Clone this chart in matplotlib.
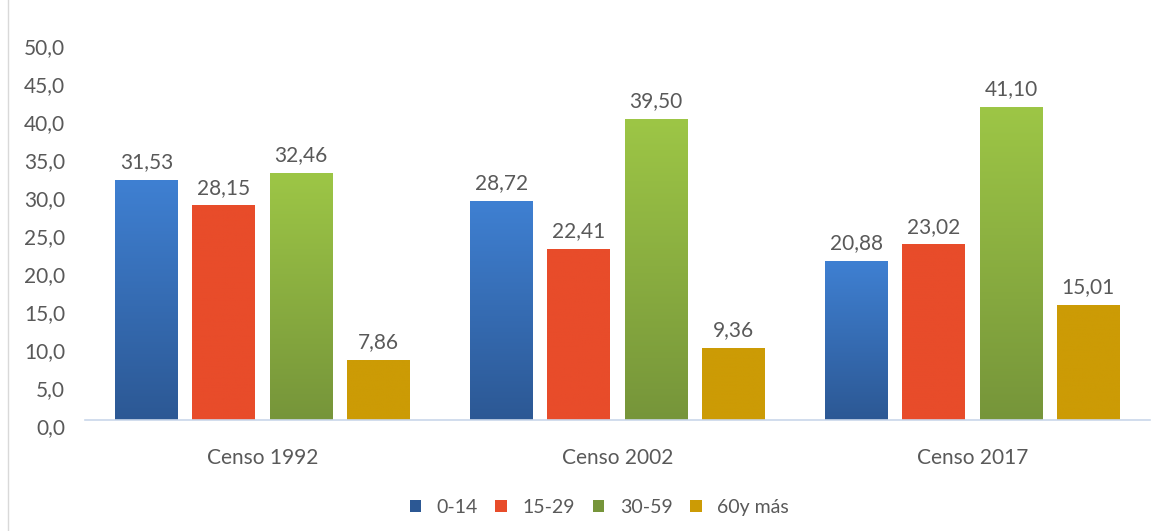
import numpy as np
import matplotlib.pyplot as plt
from matplotlib.colors import LinearSegmentedColormap
from matplotlib.patches import Patch
from matplotlib.lines import Line2D
import matplotlib.transforms as mtransforms

plt.rcParams['font.family'] = ['Lato', 'DejaVu Sans']

censos = ['Censo 1992', 'Censo 2002', 'Censo 2017']
grupos = ['0-14', '15-29', '30-59', '60y más']
valores = {
    '0-14': [31.53, 28.72, 20.88],
    '15-29': [28.15, 22.41, 23.02],
    '30-59': [32.46, 39.50, 41.10],
    '60y más': [7.86, 9.36, 15.01],
}
yticks = [0, 5, 10, 15, 20, 25, 30, 35, 40, 45, 50]

# colores (arriba, abajo) -> degradado tipo Excel
colores = {
    '0-14': ('#3F80D2', '#2C5894'),
    '15-29': ('#E84C2A', '#E84C2A'),
    '30-59': ('#9DC646', '#76953A'),
    '60y más': ('#CC9B05', '#CC9B05'),
}
txt = '#595959'
fs = 15

fig = plt.figure(figsize=(11.66, 5.31), dpi=100)
ax = fig.add_axes([0.073, 0.209, 0.913, 0.716])

x = np.arange(len(censos))
ancho = 0.177
paso = 0.218

for i, g in enumerate(grupos):
    off = (i - 1.5) * paso
    top, bot = colores[g]
    cmap = LinearSegmentedColormap.from_list(g, [bot, top])
    grad = np.linspace(1, 0, 256).reshape(-1, 1)
    for j, v in enumerate(valores[g]):
        x0 = x[j] + off - ancho / 2
        ax.imshow(grad, extent=[x0, x0 + ancho, 0, v], aspect='auto',
                  cmap=cmap, vmin=0, vmax=1, zorder=2)
        ax.annotate(f'{v:.2f}'.replace('.', ','), (x[j] + off, v),
                    xytext=(0, 6), textcoords='offset points',
                    ha='center', va='bottom', fontsize=fs, color=txt)

ax.set_xlim(-0.5, 2.5)
ax.set_ylim(0, 50)
ax.set_xticks(x)
ax.set_xticklabels(censos, fontsize=fs, color=txt)
ax.set_yticks(yticks)
ax.set_yticklabels([])
# etiquetas del eje y a mano, un poco mas abajo que la marca
shift = mtransforms.ScaledTranslation(-20 / 100, -8 / 100, fig.dpi_scale_trans)
for t in yticks:
    ax.text(0, t, f'{t:.1f}'.replace('.', ','), transform=ax.get_yaxis_transform() + shift,
            ha='right', va='center', fontsize=fs, color=txt)
ax.tick_params(axis='both', length=0)
ax.tick_params(axis='x', pad=20)
for s in ['top', 'right', 'left']:
    ax.spines[s].set_visible(False)
ax.spines['bottom'].set_color('#C9D7EA')
ax.spines['bottom'].set_linewidth(1.2)

handles = [Patch(facecolor=colores[g][1] if g in ('0-14', '30-59') else colores[g][0]) for g in grupos]
fig.legend(handles, grupos, loc='center', bbox_to_anchor=(0.514, 0.045), ncol=4,
           frameon=False, fontsize=14, labelcolor=txt, handlelength=0.6,
           handleheight=0.6, handletextpad=0.8, columnspacing=0.9)

fig.add_artist(Line2D([0.007, 0.007], [0, 1], transform=fig.transFigure,
                      color='#D9D9D9', linewidth=1))

fig.savefig('out.png', dpi=100)
